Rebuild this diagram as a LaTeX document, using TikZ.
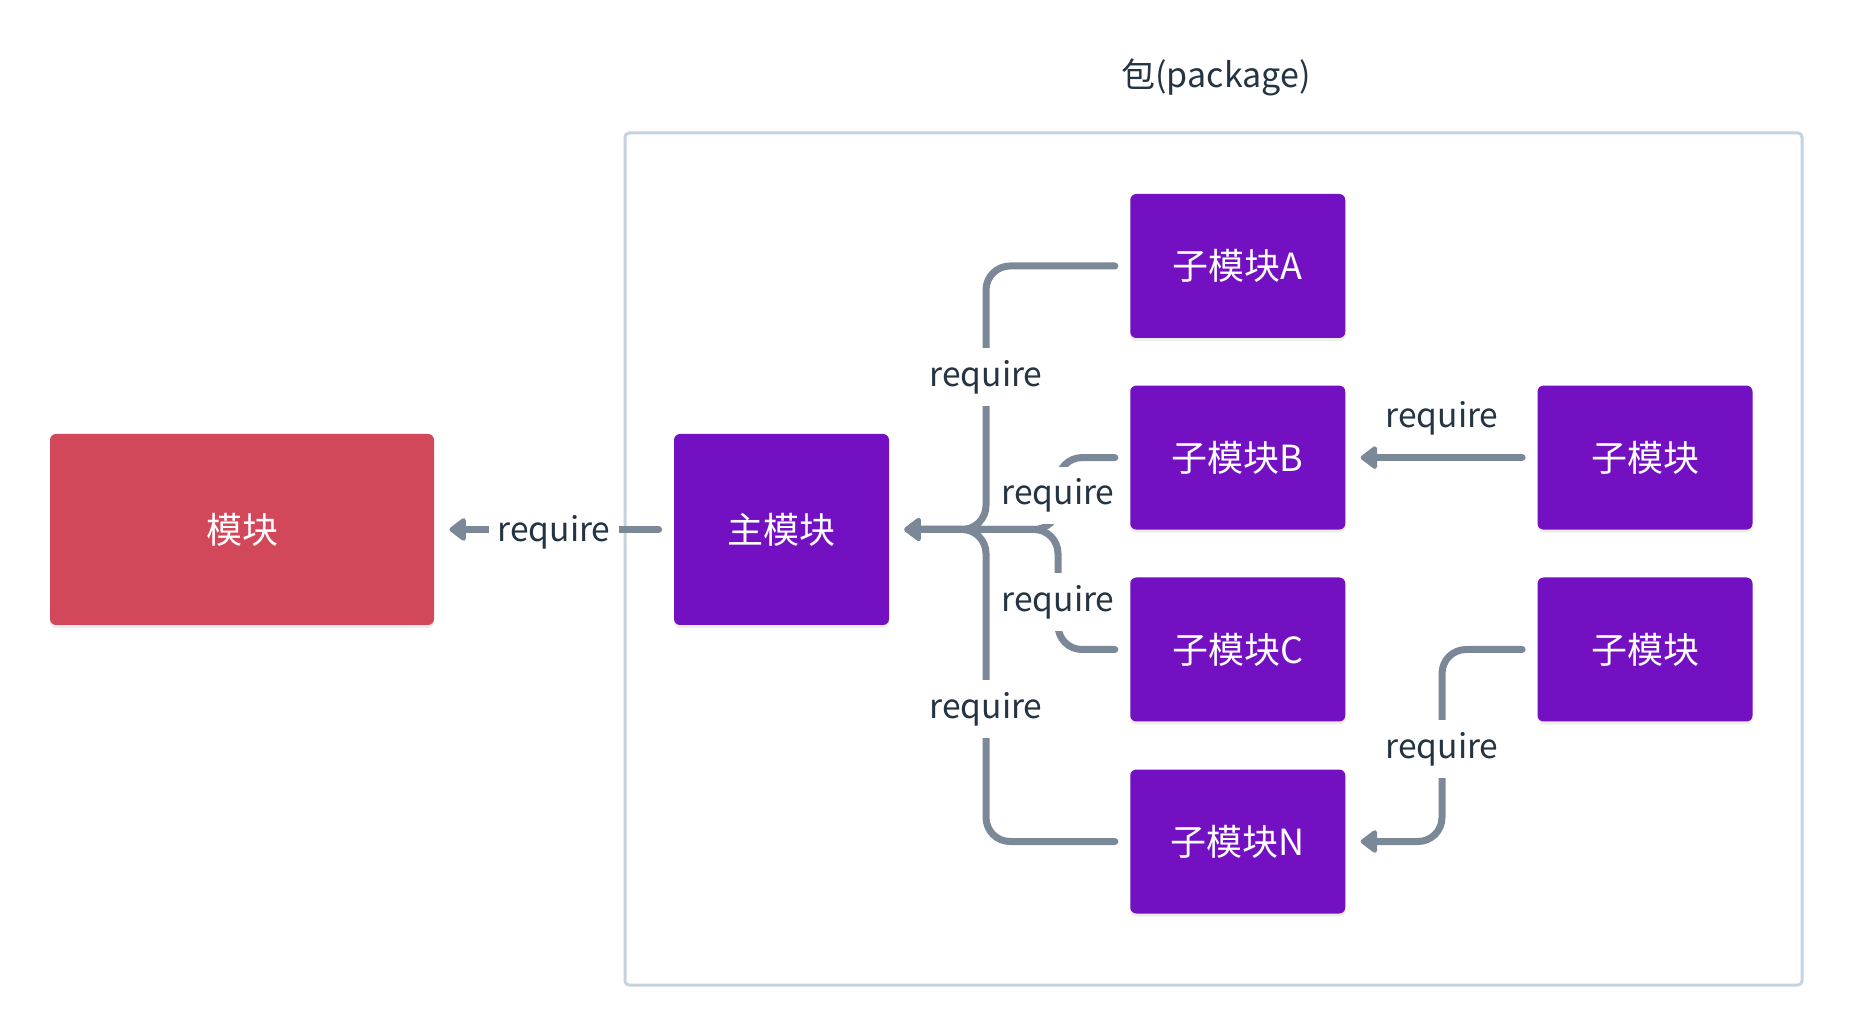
\documentclass[tikz,border=0pt]{standalone}
\usepackage{fontspec}
\setmainfont{Noto Sans CJK SC}
\usetikzlibrary{arrows.meta,shadows}
\definecolor{purp}{HTML}{7311C2}
\definecolor{redbox}{HTML}{D3475A}
\definecolor{conncol}{HTML}{7A8897}
\definecolor{txtcol}{HTML}{243443}
\definecolor{framecol}{HTML}{C6D2DD}
\tikzset{
  box/.style={draw=none, rounded corners=3pt, text=white, inner sep=0pt,
    font=\fontsize{18}{20}\selectfont,
    drop shadow={shadow xshift=0pt, shadow yshift=-1.5pt, opacity=0.07, fill=black}},
  subbox/.style={box, fill=purp, minimum width=107.5pt, minimum height=72pt},
  conn/.style={draw=conncol, line width=3.5pt, line cap=round, rounded corners=12pt,
    -{Triangle[length=9pt, width=13pt, round]}},
  lbl/.style={font=\fontsize{16.8}{20}\selectfont, text=txtcol, fill=white, inner xsep=4pt, inner ysep=6pt},
  lblplain/.style={font=\fontsize{16.8}{20}\selectfont, text=txtcol, inner sep=0pt}
}
\begin{document}
\begin{tikzpicture}[x=0.5pt,y=-0.5pt]
\useasboundingbox (0,0) rectangle (1852,1036);
% package frame
\draw[framecol, line width=1.5pt, rounded corners=2pt] (625,133) rectangle (1802,985);
\node[lblplain, font=\fontsize{17}{20}\selectfont] (title) at (1216,77) {包(package)};
% boxes
\node[box, fill=redbox, minimum width=192pt, minimum height=95.5pt] (mod) at (242,529.5) {模块};
\node[box, fill=purp, minimum width=107.5pt, minimum height=95.5pt] (main) at (781.5,529.5) {主模块};
\node[subbox] (A) at (1237.75,266) {子模块A};
\node[subbox] (B) at (1237.75,457.6) {子模块B};
\node[subbox] (C) at (1237.75,649.5) {子模块C};
\node[subbox] (N) at (1237.75,841.5) {子模块N};
\node[subbox] (R1) at (1645,457.6) {子模块};
\node[subbox] (R2) at (1645,649.5) {子模块};
% connectors
\coordinate (tip) at ([xshift=7.5pt]main.east);
\coordinate (trunkA) at (986,529.5);
\coordinate (branchB) at (1058,529.5);
\coordinate (bendR) at (1442,841.5);
\draw[conn] ([xshift=-7.5pt]A.west) -| (trunkA) -- (tip);
\draw[conn] ([xshift=-7.5pt]N.west) -| (trunkA) -- (tip);
\draw[conn] ([xshift=-7.5pt]B.west) -| (branchB) -- (tip);
\draw[conn] ([xshift=-7.5pt]C.west) -| (branchB) -- (tip);
\draw[conn] ([xshift=-7.5pt]R1.west) -- ([xshift=7.5pt]B.east);
\draw[conn] ([xshift=-7.5pt]R2.west) -| (bendR) -- ([xshift=7.5pt]N.east);
\draw[conn] ([xshift=-7.5pt]main.west) -- ([xshift=7.5pt]mod.east);
% labels
\node[lbl] (l0) at (554,532.5) {require};
\node[lbl] (lA) at (986,377) {require};
\node[lbl] (lB) at (1058,495.5) {require};
\node[lbl] (lC) at (1058,602) {require};
\node[lbl] (lN) at (986,709) {require};
\node[lblplain] (lR1) at (1442,418) {require};
\node[lbl] (lR2) at (1442,749) {require};
\end{tikzpicture}
\end{document}
